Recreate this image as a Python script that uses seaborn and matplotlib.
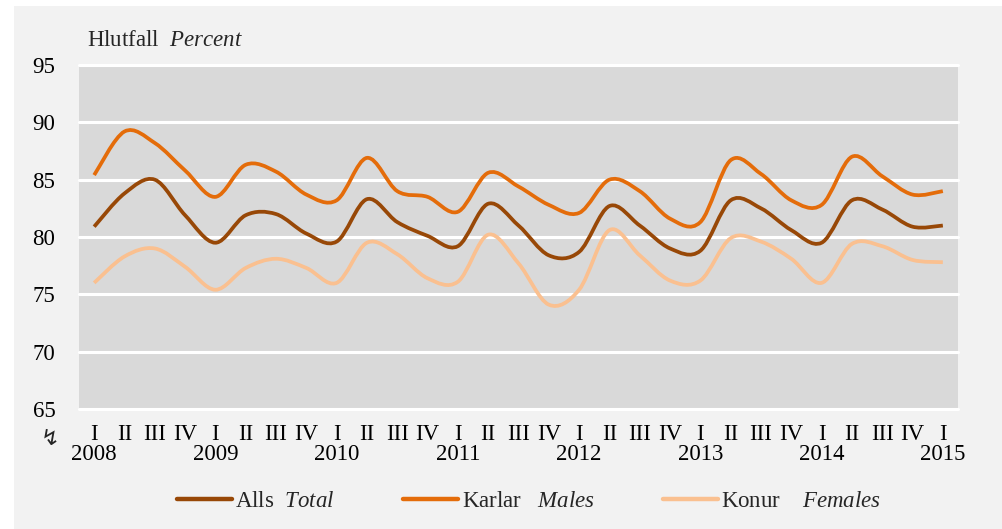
import numpy as np
import matplotlib
matplotlib.use('Agg')
import matplotlib.pyplot as plt
from matplotlib.path import Path
from matplotlib.patches import PathPatch, Rectangle
from matplotlib.lines import Line2D
import seaborn as sns

# Gögn / data, ársfjórðungar 2008 I - 2015 I
years = [2008, 2009, 2010, 2011, 2012, 2013, 2014, 2015]
quarters = ['I', 'II', 'III', 'IV']
total = [80.9, 83.8, 85.0, 81.9, 79.5, 81.9, 82.0, 80.3, 79.6, 83.3, 81.3, 80.1, 79.2, 82.9, 81.0,
         78.4, 78.7, 82.7, 81.0, 79.0, 78.8, 83.2, 82.5, 80.6, 79.5, 83.2, 82.4, 80.9, 81.0]
males = [85.4, 89.2, 88.2, 85.8, 83.5, 86.3, 85.7, 83.7, 83.2, 86.9, 84.0, 83.5, 82.2, 85.6, 84.4,
         82.8, 82.1, 85.0, 84.0, 81.6, 81.3, 86.7, 85.5, 83.2, 82.8, 87.0, 85.3, 83.7, 84.0]
females = [76.0, 78.3, 79.0, 77.4, 75.4, 77.3, 78.1, 77.3, 76.0, 79.5, 78.5, 76.4, 76.1, 80.2, 77.7,
           74.1, 75.4, 80.6, 78.4, 76.2, 76.2, 79.9, 79.6, 78.1, 76.0, 79.4, 79.2, 78.0, 77.8]

q_labels = (quarters * len(years))[:len(total)]
year_pos = [i for i, q in enumerate(q_labels) if q == 'I']

series = [('Alls  $\\mathit{Total}$', total, '#984807'),
          ('Karlar   $\\mathit{Males}$', males, '#E46C0A'),
          ('Konur    $\\mathit{Females}$', females, '#FAC090')]

FS = 16.5

sns.set_theme(style='darkgrid', rc={'axes.facecolor': '#D9D9D9', 'grid.color': 'white',
                                    'grid.linewidth': 2.2, 'figure.facecolor': 'white'})
plt.rcParams['font.family'] = ['Liberation Serif', 'DejaVu Sans']
plt.rcParams['mathtext.fontset'] = 'custom'
plt.rcParams['mathtext.rm'] = 'Liberation Serif'
plt.rcParams['mathtext.it'] = 'Liberation Serif:italic'

fig = plt.figure(figsize=(10.02, 5.29), dpi=100)
fig.patches.append(Rectangle((14 / 1002, 0), 1, 1 - 6 / 529, transform=fig.transFigure,
                             facecolor='#F2F2F2', edgecolor='none', zorder=-10))
ax = fig.add_axes([79 / 1002, 1 - 409 / 529, (958 - 79) / 1002, (409 - 65) / 529])


def smooth_path(xs, ys):
    # Bezier-slétting eins og í Excel (Catmull-Rom)
    p = np.column_stack([xs, ys]).astype(float)
    ext = np.vstack([p[0], p, p[-1]])
    verts = [p[0]]
    codes = [Path.MOVETO]
    for i in range(len(p) - 1):
        a, b, c, d = ext[i], ext[i + 1], ext[i + 2], ext[i + 3]
        verts += [b + (c - a) / 6, c - (d - b) / 6, c]
        codes += [Path.CURVE4] * 3
    return Path(verts, codes)


x = np.arange(len(total))
handles = []
for name, vals, col in series:
    ax.add_patch(PathPatch(smooth_path(x, vals), facecolor='none', edgecolor=col,
                           lw=2.7, capstyle='butt', zorder=3))
    handles.append(Line2D([], [], color=col, lw=3.2))

ax.set_xlim(-0.5, len(total) - 0.5)
ax.set_ylim(65, 95)
ax.set_yticks(range(65, 96, 5))
ax.set_xticks(x)
ax.set_xticklabels(q_labels)
ax.tick_params(axis='both', length=0, labelsize=FS, colors='black')
ax.tick_params(axis='y', pad=17)
ax.tick_params(axis='x', pad=11)
ax.xaxis.grid(False)
for gl in ax.get_ygridlines():
    gl.set_clip_on(False)
for s in ax.spines.values():
    s.set_visible(False)

# ártöl í annarri línu
sec = ax.secondary_xaxis('bottom')
sec.set_xticks(year_pos)
sec.set_xticklabels([str(y) for y in years][:len(year_pos)])
sec.tick_params(length=0, labelsize=FS, colors='black', pad=25)
sec.spines['bottom'].set_visible(False)

fig.text(87 / 1002, 1 - 41 / 529, 'Hlutfall  $\\mathit{Percent}$', fontsize=FS,
         va='center', ha='left')
fig.text(50 / 1002, 1 - 439 / 529, '\u21af', fontsize=16, family='DejaVu Sans',
         ha='center', va='center')

fig.legend(handles, [s[0] for s in series], ncol=3, loc='center',
           bbox_to_anchor=(0.528, 1 - 501 / 529), frameon=False, fontsize=FS,
           handlelength=2.4, handletextpad=0.15, columnspacing=3.0)

fig.savefig('out.png', dpi=100)
